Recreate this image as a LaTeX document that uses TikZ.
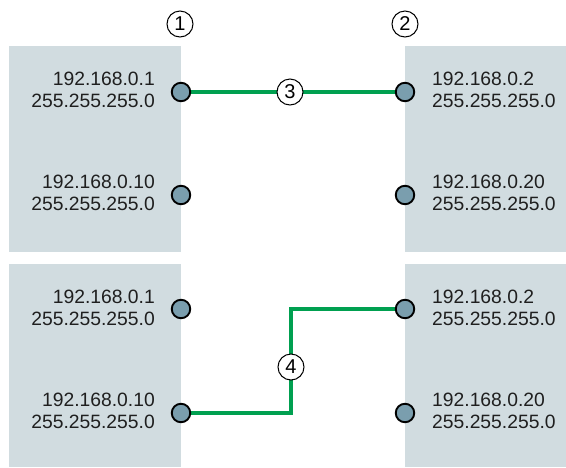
\documentclass[tikz,border=0pt]{standalone}
\usepackage{fontspec}
\setmainfont{Liberation Sans}
\definecolor{panelc}{HTML}{D1DCE0}
\definecolor{dotc}{HTML}{7A9EAE}
\definecolor{linkc}{HTML}{00A050}
\begin{document}
\begin{tikzpicture}[x=1pt,y=-1pt,
  panel/.style={fill=panelc,draw=none},
  port/.style={circle,fill=dotc,draw=black,line width=1.9pt,minimum size=18.5pt,inner sep=0pt},
  lbl/.style={font=\fontsize{19.3}{22.5}\selectfont,inner sep=0pt,text=black!88},
  num/.style={circle,draw=black,fill=white,line width=1pt,minimum size=26pt,inner sep=0pt,font=\fontsize{20}{21}\selectfont},
  link/.style={draw=linkc,line width=3.8pt}]
\useasboundingbox (0,0) rectangle (566,467);
\fill[panel] (9,46) rectangle (181,252);
\fill[panel] (9,264) rectangle (181,467);
\fill[panel] (405,46) rectangle (566,252);
\fill[panel] (405,264) rectangle (566,467);
% labels
\node[lbl,anchor=east,align=right] (t1) at (155,90) {192.168.0.1\\255.255.255.0};
\node[lbl,anchor=east,align=right] (t2) at (155,193) {192.168.0.10\\255.255.255.0};
\node[lbl,anchor=west,align=left] (t3) at (432,90) {192.168.0.2\\255.255.255.0};
\node[lbl,anchor=west,align=left] (t4) at (432,193) {192.168.0.20\\255.255.255.0};
\node[lbl,anchor=east,align=right] (t5) at (155,308) {192.168.0.1\\255.255.255.0};
\node[lbl,anchor=east,align=right] (t6) at (155,411) {192.168.0.10\\255.255.255.0};
\node[lbl,anchor=west,align=left] (t7) at (432,308) {192.168.0.2\\255.255.255.0};
\node[lbl,anchor=west,align=left] (t8) at (432,411) {192.168.0.20\\255.255.255.0};
% ports
\coordinate (pa) at (181,92);
\coordinate (pb) at (181,195);
\coordinate (pc) at (405,92);
\coordinate (pd) at (405,195);
\coordinate (pe) at (181,309);
\coordinate (pf) at (181,413);
\coordinate (pg) at (405,309);
\coordinate (ph) at (405,413);
\coordinate (bend1) at (291,413);
\coordinate (bend2) at (291,309);
% links
\draw[link] (pa) -- (pc);
\draw[link] (pf) -- (bend1) -- (bend2) -- (pg);
\foreach \p in {pa,pb,pc,pd,pe,pf,pg,ph}
  \node[port] (n\p) at (\p) {};
% numbers
\node[num] (c1) at (180,24) {1};
\node[num] (c2) at (405,24) {2};
\node[num] (c3) at (290,92) {3};
\node[num] (c4) at (291,367) {4};
\end{tikzpicture}
\end{document}
